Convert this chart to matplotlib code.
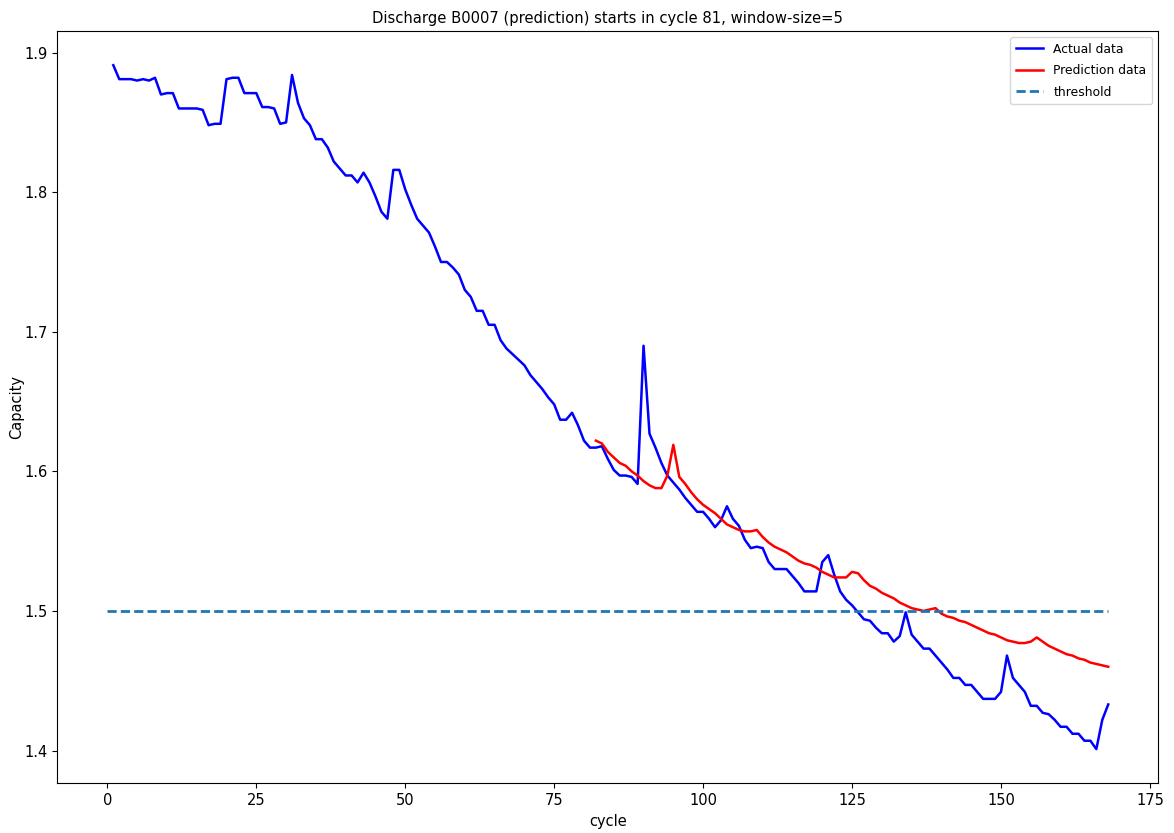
import numpy as np
import matplotlib
matplotlib.use("Agg")
import matplotlib.pyplot as plt

actual_cycles = list(range(1, 169))
actual_capacity = [
    1.891, 1.881, 1.881, 1.881, 1.880, 1.881, 1.880, 1.882, 1.870, 1.871,
    1.871, 1.860, 1.860, 1.860, 1.860, 1.859, 1.848, 1.849, 1.849, 1.881,
    1.882, 1.882, 1.871, 1.871, 1.871, 1.861, 1.861, 1.860, 1.849, 1.850,
    1.884, 1.864, 1.853, 1.848, 1.838, 1.838, 1.832, 1.822, 1.817, 1.812,
    1.812, 1.807, 1.814, 1.807, 1.797, 1.786, 1.781, 1.816, 1.816, 1.802,
    1.791, 1.781, 1.776, 1.771, 1.761, 1.750, 1.750, 1.746, 1.741, 1.730,
    1.725, 1.715, 1.715, 1.705, 1.705, 1.694, 1.688, 1.684, 1.680, 1.676,
    1.669, 1.664, 1.659, 1.653, 1.648, 1.637, 1.637, 1.642, 1.633, 1.622,
    1.617, 1.617, 1.618, 1.609, 1.601, 1.597, 1.597, 1.596, 1.591, 1.690,
    1.627, 1.617, 1.606, 1.597, 1.592, 1.587, 1.581, 1.576, 1.571, 1.571,
    1.566, 1.560, 1.565, 1.575, 1.566, 1.561, 1.551, 1.545, 1.546, 1.545,
    1.535, 1.530, 1.530, 1.530, 1.525, 1.520, 1.514, 1.514, 1.514, 1.535,
    1.540, 1.526, 1.514, 1.508, 1.504, 1.499, 1.494, 1.493, 1.488, 1.484,
    1.484, 1.478, 1.482, 1.499, 1.483, 1.478, 1.473, 1.473, 1.468, 1.463,
    1.458, 1.452, 1.452, 1.447, 1.447, 1.442, 1.437, 1.437, 1.437, 1.442,
    1.468, 1.452, 1.447, 1.442, 1.432, 1.432, 1.427, 1.426, 1.422, 1.417,
    1.417, 1.412, 1.412, 1.407, 1.407, 1.401, 1.422, 1.433,
]

pred_cycles = list(range(82, 169))
pred_capacity = [
    1.622, 1.620, 1.614, 1.610, 1.606, 1.604, 1.600, 1.597, 1.593, 1.590,
    1.588, 1.588, 1.597, 1.619, 1.596, 1.591, 1.585, 1.580, 1.576, 1.573,
    1.570, 1.566, 1.562, 1.560, 1.558, 1.557, 1.557, 1.558, 1.553, 1.549,
    1.546, 1.544, 1.542, 1.539, 1.536, 1.534, 1.533, 1.531, 1.528, 1.526,
    1.524, 1.524, 1.524, 1.528, 1.527, 1.522, 1.518, 1.516, 1.513, 1.511,
    1.509, 1.506, 1.504, 1.502, 1.501, 1.500, 1.501, 1.502, 1.498, 1.496,
    1.495, 1.493, 1.492, 1.490, 1.488, 1.486, 1.484, 1.483, 1.481, 1.479,
    1.478, 1.477, 1.477, 1.478, 1.481, 1.478, 1.475, 1.473, 1.471, 1.469,
    1.468, 1.466, 1.465, 1.463, 1.462, 1.461, 1.460,
]

threshold_x = [0, 168]
threshold_y = [1.5, 1.5]

title = "Discharge B0007 (prediction) starts in cycle 81, window-size=5"

fig = plt.figure(figsize=(11.74, 8.33), dpi=100)
ax = fig.add_axes([57.3 / 1174, 1 - 783.3 / 833, (1158.3 - 57.3) / 1174, (783.3 - 31) / 833])

ax.plot(actual_cycles, actual_capacity, color="blue", lw=1.8, label="Actual data")
ax.plot(pred_cycles, pred_capacity, color="red", lw=1.8, label="Prediction data")
ax.plot(threshold_x, threshold_y, color="#1f77b4", lw=2.0, ls="--", dashes=(3.3, 1.5), label="threshold")

ax.set_title(title, fontsize=10.6)
ax.set_xlabel("cycle", fontsize=10.5)
ax.set_ylabel("Capacity", fontsize=10.5, labelpad=0)
ax.tick_params(labelsize=10.5)
ax.legend(loc="upper right", fontsize=8.9, labelspacing=0.68, handlelength=2.2,
          handletextpad=0.85, borderpad=0.45)

fig.savefig("out.png", dpi=100)
